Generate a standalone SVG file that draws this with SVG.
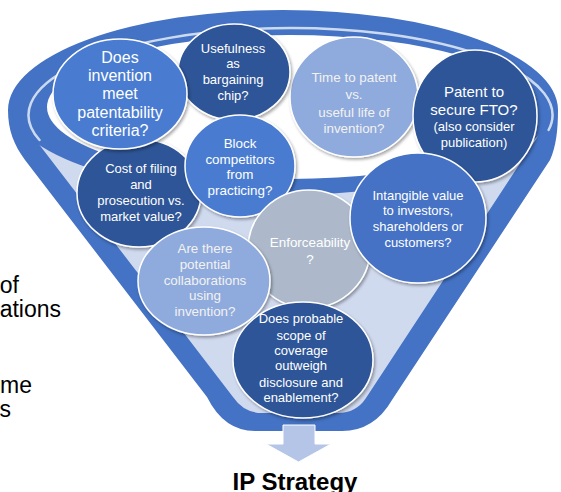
<svg xmlns="http://www.w3.org/2000/svg" width="561" height="492" viewBox="0 0 561 492">
<defs>
<filter id="sh" x="-20%" y="-20%" width="140%" height="140%">
<feDropShadow dx="1.5" dy="2" stdDeviation="1.5" flood-color="#000" flood-opacity="0.35"/>
</filter>
</defs>
<style>
.c{stroke:#fff;stroke-width:1.5;filter:url(#sh)}
.dk{fill:#2F5597}
.md{fill:#4472C4}
.md2{fill:#4A7BD0}
.lt{fill:#8FAADC}
.gy{fill:#ADB9CA}
text{font-family:"Liberation Sans",Arial,sans-serif;text-anchor:middle;fill:#fff}
.f13{font-size:13px}
.f135{font-size:13.4px}
.f15{font-size:15px}
.f16{font-size:16px}
.pale{fill:#F2F2F2}
.side{fill:#000;font-size:23px;text-anchor:end}
.title{fill:#000;font-size:24px;font-weight:bold}
</style>
<rect width="561" height="492" fill="#fff"/>

<g id="side-text">
<text class="side" x="19" y="293">of</text>
<text class="side" x="61" y="317">ations</text>
<text class="side" x="32" y="393">me</text>
<text class="side" x="11" y="417">s</text>
</g>

<g id="funnel">
<path d="M8,110 A275,100 0 0 1 558,110 C558,130 556,147 550,160 L392,400 Q374,431 342,431 L255,431 Q224,431 207,397 L25,160 C14,145 8,130 8,110 Z" fill="#4472C4"/>
<path d="M28,130 L233,397 Q244,413 262,413 L338,413 Q356,413 366,398 L542,130 Z" fill="#D0DAEF"/>
<ellipse cx="283" cy="105" rx="272" ry="90" fill="#4472C4"/>
<ellipse cx="290" cy="107" rx="243" ry="72" fill="#fff"/>
<path d="M39.5,140 A262,87 0 1 1 548.6,130" fill="none" stroke="#DCE5F4" stroke-width="2.5" stroke-linecap="round" opacity="0.9"/>
</g>

<g id="connectors">
<path id="arrow" d="M283,425 L315,425 L315,444 L331,444 L298.5,462 L266,444 L283,444 Z" fill="#B4C5E7" stroke="#fff" stroke-width="1"/>
</g>

<g id="n-time">
<ellipse class="c lt" cx="354" cy="97" rx="64" ry="60"/>
<text class="f135 pale" x="354" y="82.3">Time to patent</text>
<text class="f135 pale" x="354" y="99.3">vs.</text>
<text class="f135 pale" x="354" y="116.5">useful life of</text>
<text class="f135 pale" x="354" y="133.3">invention?</text>
</g>

<g id="n-usefulness">
<ellipse class="c dk" cx="234" cy="72" rx="56" ry="48"/>
<text class="f13" x="233" y="52.7">Usefulness</text>
<text class="f13" x="233" y="68.3">as</text>
<text class="f13" x="233" y="84">bargaining</text>
<text class="f13" x="233" y="99.5">chip?</text>
</g>

<g id="n-cost">
<ellipse class="c dk" cx="139" cy="193" rx="62" ry="54"/>
<text class="f13" x="141" y="173.3">Cost of filing</text>
<text class="f13" x="141" y="189">and</text>
<text class="f13" x="141" y="205">prosecution vs.</text>
<text class="f13" x="141" y="221">market value?</text>
</g>

<g id="n-patentability">
<ellipse class="c md2" cx="120" cy="94" rx="67" ry="55"/>
<text class="f16" x="120" y="62.5">Does</text>
<text class="f16" x="120" y="80.8">invention</text>
<text class="f16" x="120" y="99">meet</text>
<text class="f16" x="120" y="117.5">patentability</text>
<text class="f16" x="120" y="135.5">criteria?</text>
</g>

<g id="n-block">
<ellipse class="c md2" cx="240" cy="166" rx="55" ry="51"/>
<text class="f135" x="240" y="148.3">Block</text>
<text class="f135" x="240" y="163.5">competitors</text>
<text class="f135" x="240" y="179">from</text>
<text class="f135" x="240" y="195">practicing?</text>
</g>

<g id="n-enforceability">
<ellipse class="c gy" cx="309" cy="249" rx="61" ry="59"/>
<text class="f135" x="310" y="247">Enforceability</text>
<text class="f135" x="310" y="263.5">?</text>
</g>

<g id="n-fto">
<ellipse class="c dk" cx="475" cy="116" rx="62" ry="66"/>
<text class="f15" x="474" y="96.7">Patent to</text>
<text class="f15" x="474" y="115">secure FTO?</text>
<text class="f13" x="474" y="130.7">(also consider</text>
<text class="f13" x="474" y="146.7">publication)</text>
</g>

<g id="n-intangible">
<ellipse class="c md" cx="418" cy="218" rx="68" ry="65"/>
<text class="f13" x="418" y="200">Intangible value</text>
<text class="f13" x="418" y="215.3">to investors,</text>
<text class="f13" x="418" y="231">shareholders or</text>
<text class="f13" x="418" y="246.7">customers?</text>
</g>

<g id="n-collab">
<ellipse class="c lt" cx="204" cy="281" rx="66" ry="54"/>
<text class="f135 pale" x="205" y="253.3">Are there</text>
<text class="f135 pale" x="205" y="269">potential</text>
<text class="f135 pale" x="205" y="284.5">collaborations</text>
<text class="f135 pale" x="205" y="300">using</text>
<text class="f135 pale" x="205" y="315.5">invention?</text>
</g>

<g id="n-scope">
<ellipse class="c dk" cx="303" cy="360" rx="70" ry="58"/>
<text class="f13" x="301" y="322.5">Does probable</text>
<text class="f13" x="301" y="340">scope of</text>
<text class="f13" x="301" y="354.5">coverage</text>
<text class="f13" x="301" y="370">outweigh</text>
<text class="f13" x="301" y="386.5">disclosure and</text>
<text class="f13" x="301" y="402">enablement?</text>
</g>

<g id="n-title">
<text class="title" x="295" y="490">IP Strategy</text>
</g>
</svg>
